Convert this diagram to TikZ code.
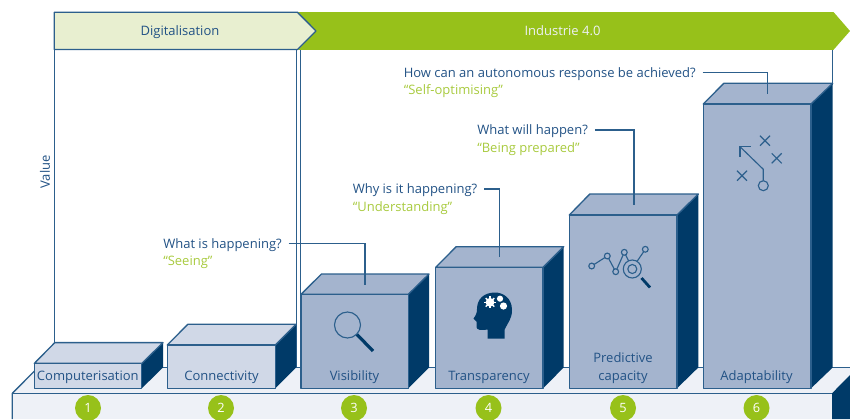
\documentclass[tikz,border=0pt]{standalone}
\usepackage{fontspec}
\setmainfont{Open Sans}
\definecolor{navy}{HTML}{003A68}
\definecolor{edge}{HTML}{2C5F8C}
\definecolor{txt}{HTML}{225285}
\definecolor{mid}{HTML}{A4B4CE}
\definecolor{pale}{HTML}{D0D8E7}
\definecolor{base}{HTML}{EEF1F7}
\definecolor{lime}{HTML}{97C11A}
\definecolor{limetxt}{HTML}{A8CA3E}
\definecolor{banner}{HTML}{E8EFD0}
\tikzset{
  line/.style={draw=edge,line width=1pt,line join=round},
  label/.style={text=txt,font=\fontsize{9.75}{11.5}\selectfont,inner sep=0pt,text height=8pt,text depth=0.8pt},
  ask/.style={label,anchor=west},
  quote/.style={ask,text=limetxt},
  leader/.style={draw=edge,line width=0.8pt},
  num/.style={circle,fill=lime,minimum size=19.5pt,inner sep=0pt,text=white,font=\fontsize{9.6}{11}\selectfont},
  icon/.style={draw=edge,line width=0.85pt},
  handle/.style={draw=navy,line width=2.1pt},
}
% #1 fill, #2 x0, #3 x1, #4 front top y, #5 back top y, #6 back right x
\newcommand{\blockbox}[6]{
  \path[fill=navy] (#3,388.3) -- (#3,#4) -- (#6,#5) -- (#6,367.5) -- cycle;
  \path[line,fill=#1] (#2,#4) -- (#2+20.5,#5) -- (#6,#5) -- (#3,#4) -- cycle;
  \path[line,fill=#1] (#2,#4) rectangle (#3,388.3);
}
\begin{document}
\begin{tikzpicture}[x=0.75pt,y=-0.75pt]
\useasboundingbox (0,0) rectangle (850,419);
% frames
\draw[line] (54.3,49.5) -- (54.3,345);
\draw[line] (296.8,49.5) -- (296.8,368);
\draw[line] (300.5,49.5) -- (300.5,368);
\draw[line] (300.5,49.5) -- (832.3,49.5) -- (832.3,85);
% banners
\path[fill=lime] (298,12) -- (833.5,12) -- (850,31) -- (833.5,49.8) -- (298,49.8) -- (316,31) -- cycle;
\path[line,fill=banner] (54.3,12.3) -- (297.5,12.3) -- (316,31) -- (297.5,49.5) -- (54.3,49.5) -- cycle;
\node[label] (digi) at (180,31) {Digitalisation};
\node[label,text=base] (ind) at (562.5,31) {Industrie 4.0};
\node[label,rotate=90] (value) at (45,172) {Value};
% platform
\path[fill=base] (12.3,393.3) -- (38,367.5) -- (850,367.5) -- (850,375) -- (832,393.3) -- (832,419) -- (12.3,419) -- cycle;
\draw[line] (12.3,419) -- (12.3,393.3) -- (36,369.5);
\draw[line] (12.3,393.3) -- (832,393.3);
\draw[line] (38,367.5) -- (850,367.5);
\path[fill=navy] (832,393.3) -- (850,375) -- (850,419) -- (832,419) -- cycle;
% blocks
\blockbox{pale}{34.3}{141.8}{363.4}{342.6}{163}
\blockbox{pale}{167.3}{275.3}{345}{324.3}{296}
\blockbox{mid}{301}{408.3}{294.3}{274}{429}
\blockbox{mid}{435.7}{543}{267.3}{246.7}{563.7}
\blockbox{mid}{569.3}{677}{215}{194}{698.3}
\blockbox{mid}{703.3}{811}{104}{83.3}{832.7}
% block labels
\node[label] (l1) at (87.8,375.2) {Computerisation};
\node[label] (l2) at (221.5,375.2) {Connectivity};
\node[label] (l3) at (354.5,375.2) {Visibility};
\node[label] (l4) at (489,375.2) {Transparency};
\node[label] (l5a) at (623,358) {Predictive};
\node[label] (l5) at (623,375.2) {capacity};
\node[label] (l6) at (756.5,375.2) {Adaptability};
% numbers
\node[num] (n1) at (88,408) {1};
\node[num] (n2) at (221,408) {2};
\node[num] (n3) at (354,408) {3};
\node[num] (n4) at (488.5,408) {4};
\node[num] (n5) at (623,408) {5};
\node[num] (n6) at (756.5,408) {6};
% questions
\node[ask] (q1) at (163,243.5) {What is happening?};
\node[quote] (s1) at (163,261) {“Seeing”};
\node[ask] (q2) at (352.5,189) {Why is it happening?};
\node[quote] (s2) at (352.5,206.5) {“Understanding”};
\node[ask] (q3) at (477,130) {What will happen?};
\node[quote] (s3) at (477,147.5) {“Being prepared”};
\node[ask] (q4) at (403.5,72.5) {How can an autonomous response be achieved?};
\node[quote] (s4) at (403.5,90) {“Self-optimising”};
\coordinate (t1) at (365,284.5);
\coordinate (t2) at (499.5,257);
\coordinate (t3) at (634,204.5);
\coordinate (t4) at (767.5,94);
\draw[leader] ([xshift=5pt]q1.east) -| (t1);
\draw[leader] ([xshift=5pt]q2.east) -| (t2);
\draw[leader] ([xshift=5pt]q3.east) -| (t3);
\draw[leader] ([xshift=5pt]q4.east) -| (t4);
% magnifier icon
\draw[icon] (347.5,325) circle[radius=13];
\draw[handle,line width=2.4pt] (357,334.5) -- (373,351);
% head icon
\path[fill=navy] (487.7,338.5) -- (504.5,338.5) -- (504.5,330) .. controls (508,322) and (512,319) .. (512,310)
  .. controls (512,298) and (503,292.5) .. (495,292.5) .. controls (484,292.5) and (477,299) .. (477,309)
  .. controls (477,313) and (476,315) .. (473.5,318.5) -- (476.5,321.5) -- (476.5,327) .. controls (477,330) and (480,330.5) .. (487.7,329.5) -- cycle;
\fill[white] (490,302.3) circle[radius=4.4];
\foreach \a in {0,45,...,315}{\draw[white,line width=1.1pt] (490,302.3) -- ++(\a:6);}
\fill[white] (500,298.7) circle[radius=3.1];
\fill[white] (503.5,306) circle[radius=3.6];
% chart icon
\draw[icon] (591.7,266) -- (607.3,256) -- (615.7,271.7) -- (624.3,252.3) -- (632.3,268.3);
\draw[icon] (632.3,268.3) -- (645.3,249.3);
\foreach \p in {(591.7,266),(607.3,256),(615.7,271.7),(624.3,252.3),(645.3,249.3)}{\draw[icon,fill=mid] \p circle[radius=2.9];}
\draw[icon,fill=mid] (632.3,269) circle[radius=9];
\draw[icon] (632.3,269) circle[radius=4.5];
\draw[handle] (641.5,278) -- (650,287.5);
% play icon
\foreach \c in {(765,140.7),(776.7,158.3),(742,175.7)}{
  \draw[icon] \c ++(-5,-5) -- ++(10,10) \c ++(-5,5) -- ++(10,-10);}
\draw[icon] (763.3,180) -- (763.3,169.3) -- (740,146.7);
\draw[icon] (750.7,146.7) -- (740,146.7) -- (740,157.3);
\draw[icon] (763.3,185.7) circle[radius=5];
\end{tikzpicture}
\end{document}
